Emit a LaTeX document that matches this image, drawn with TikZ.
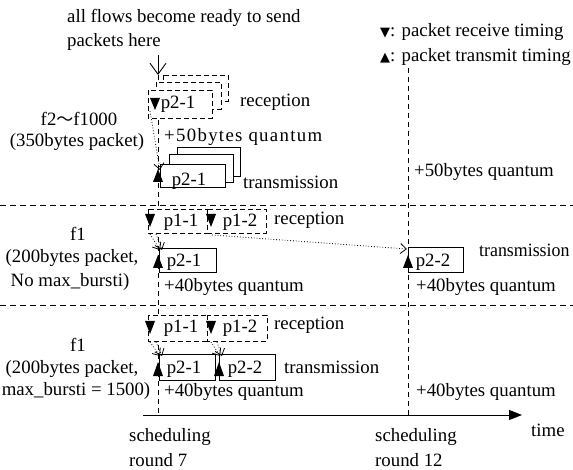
\documentclass[tikz,border=0pt]{standalone}
\usepackage{fontspec}
\setmainfont{Liberation Serif}
\newfontfamily\symfont{DejaVu Sans}
\newfontfamily\cjkfont{Noto Sans CJK JP}
\newfontfamily\widefont[LetterSpace=7]{Liberation Serif}
\usetikzlibrary{arrows.meta}
\begin{document}
\begin{tikzpicture}[x=1pt,y=-1pt,
  txt/.style={inner sep=0pt,font=\fontsize{18.8}{22}\selectfont},
  lt/.style={txt,anchor=west},
  recv/.style={draw,line width=0.9pt,fill=white,dash pattern=on 5pt off 3pt},
  xmit/.style={draw,line width=0.9pt,fill=white},
  sep/.style={draw,line width=0.9pt,dash pattern=on 6pt off 4pt},
  vline/.style={draw,line width=0.9pt,dash pattern=on 5pt off 4pt},
  dotarr/.style={draw,dotted,line width=0.8pt,-{Straight Barb[length=6pt,width=10pt]}},
  tri/.style={fill=black},
]
\useasboundingbox (0,0) rectangle (573,470);
% separators
\draw[sep] (0,205) -- (573,205);
\draw[sep] (0,305) -- (573,305);
% round lines
\coordinate (r7top) at (158,55);
\coordinate (r7a) at (158,75);
\coordinate (r7b) at (158,415);
\coordinate (r12a) at (408,68);
\coordinate (r12b) at (408,415);
\draw[vline] (r7a) -- (r7b);
\draw[vline] (r12a) -- (r12b);
\draw[line width=0.9pt,-{Straight Barb[length=11pt,width=16pt]}] (r7top) -- (r7a);
% time axis
\coordinate (ax0) at (143,415);
\coordinate (ax1) at (522,415);
\draw[line width=1pt,-{Triangle[length=13pt,width=10pt]}] (ax0) -- (ax1);

% texts top
\node[lt] (t1) at (67,18) {all flows become ready to send};
\node[lt] (t2) at (67,42) {packets here};
\node[lt] (lg1) at (380,32) {{\symfont\fontsize{13}{13}\selectfont ▼}: packet receive timing};
\node[lt] (lg2) at (380,57) {{\symfont\fontsize{13}{13}\selectfont ▲}: packet transmit timing};

% ===== top section
\draw[recv] (163,75) rectangle (228,101);
\draw[recv] (156,82) rectangle (221,109);
\draw[recv] (148,90) rectangle (212,118);
\fill[tri] (150,98) -- (160,98) -- (155,110) -- cycle;
\node[txt] (a1) at (178,104) {p2-1};
\node[lt] (a2) at (240,102) {reception};
\node[lt] (a3) at (164,137) {\widefont +50bytes quantum};
\draw[xmit] (177,147) rectangle (240,176);
\draw[xmit] (169,154) rectangle (233,182);
\draw[xmit] (160,164) rectangle (225,187);
\fill[tri] (153,182) -- (163,182) -- (158,169) -- cycle;
\node[txt] (a4) at (189,181) {p2-1};
\node[lt] (a5) at (243,182) {transmission};
\node[lt] (a6) at (414,172) {+50bytes quantum};
\node[txt] (a7) at (79,119) {f2{\cjkfont\fontsize{17}{17}\selectfont ～}f1000};
\node[txt] (a8) at (77,142) {(350bytes packet)};
\coordinate (d1s) at (150,111);
\coordinate (d1e) at (160,170);
\draw[dotarr] (d1s) -- (d1e);

% ===== middle section
\draw[recv] (148,209) rectangle (207,233);
\draw[recv] (207,209) rectangle (266,233);
\fill[tri] (145,214) -- (155,214) -- (150,227) -- cycle;
\fill[tri] (206,214) -- (216,214) -- (211,227) -- cycle;
\node[txt] (b1) at (181,222) {p1-1};
\node[txt] (b2) at (240,222) {p1-2};
\node[lt] (b3) at (274,220) {reception};
\draw[xmit] (159,248) rectangle (216,272);
\fill[tri] (153,268) -- (163,268) -- (158,255) -- cycle;
\node[txt] (b4) at (184,262) {p2-1};
\node[lt] (b5) at (164,287) {+40bytes quantum};
\draw[xmit] (408,247) rectangle (463,272);
\fill[tri] (403,268) -- (413,268) -- (408,255) -- cycle;
\node[txt] (b6) at (433,262) {p2-2};
\node[lt] (b7) at (479,250) {\scalebox{0.95}[1]{transmission}};
\node[lt] (b8) at (416,287) {+40bytes quantum};
\node[txt] (b9) at (78,234) {f1};
\node[txt] (b10) at (72,258) {(200bytes packet,};
\node[txt] (b11) at (70,282) {No max\_bursti)};
\coordinate (d2s) at (150,234);
\coordinate (d2e) at (160,250);
\coordinate (d3s) at (156,234);
\coordinate (d3e) at (162,250);
\coordinate (d4s) at (212,235);
\coordinate (d4e) at (407,249);
\draw[dotarr] (d2s) -- (d2e);
\draw[dotarr] (d3s) -- (d3e);
\draw[dotarr] (d4s) -- (d4e);

% ===== bottom section
\draw[recv] (148,315) rectangle (207,341);
\draw[recv] (207,315) rectangle (267,341);
\fill[tri] (145,321) -- (155,321) -- (150,334) -- cycle;
\fill[tri] (206,321) -- (216,321) -- (211,334) -- cycle;
\node[txt] (c1) at (181,328) {p1-1};
\node[txt] (c2) at (240,328) {p1-2};
\node[lt] (c3) at (274,325) {reception};
\draw[xmit] (159,354) rectangle (215,380);
\draw[xmit] (219,354) rectangle (275,380);
\fill[tri] (153,376) -- (163,376) -- (158,362) -- cycle;
\fill[tri] (214,376) -- (224,376) -- (219,362) -- cycle;
\node[txt] (c4) at (184,369) {p2-1};
\node[txt] (c5) at (245,369) {p2-2};
\node[lt] (c6) at (284,367) {transmission};
\node[lt] (c7) at (164,392) {+40bytes quantum};
\node[lt] (c8) at (416,392) {+40bytes quantum};
\node[txt] (c9) at (78,345) {f1};
\node[txt] (c10) at (72,369) {(200bytes packet,};
\node[txt] (c11) at (76,391) {max\_bursti = 1500)};
\coordinate (e1s) at (150,342);
\coordinate (e1e) at (160,356);
\coordinate (e2s) at (156,342);
\coordinate (e2e) at (162,356);
\coordinate (e3s) at (211,342);
\coordinate (e3e) at (220,356);
\coordinate (e4s) at (217,342);
\coordinate (e4e) at (222,356);
\draw[dotarr] (e1s) -- (e1e);
\draw[dotarr] (e2s) -- (e2e);
\draw[dotarr] (e3s) -- (e3e);
\draw[dotarr] (e4s) -- (e4e);

% bottom labels
\node[lt] (s1) at (129,437) {scheduling};
\node[lt] (s2) at (129,460) {round 7};
\node[lt] (s3) at (375,437) {scheduling};
\node[lt] (s4) at (375,460) {round 12};
\node[lt] (tm) at (531,430) {time};
\end{tikzpicture}
\end{document}
